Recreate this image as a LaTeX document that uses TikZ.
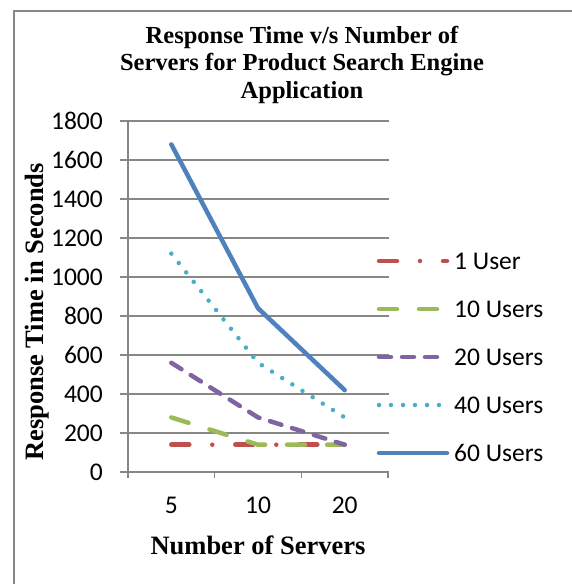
\documentclass[tikz,border=0pt]{standalone}
\usepackage{fontspec}
\setmainfont{Liberation Serif}
\newfontfamily\calibri{Carlito}
\definecolor{gridgray}{HTML}{878787}
\definecolor{oneuser}{HTML}{C0504D}
\definecolor{tenusers}{HTML}{9BBB59}
\definecolor{twentyusers}{HTML}{8064A2}
\definecolor{fortyusers}{HTML}{4BACC6}
\definecolor{sixtyusers}{HTML}{4F81BD}
\begin{document}
\begin{tikzpicture}[x=1pt, y=-1pt,
    axisline/.style={draw=gridgray, line width=1.3pt},
    ticklabel/.style={font=\calibri\fontsize{25.5}{28}\selectfont, inner sep=0pt},
    titlefont/.style={font=\bfseries\fontsize{24.5}{27.5}\selectfont, inner sep=0pt, align=center},
    axistitle/.style={font=\bfseries\fontsize{26.5}{30}\selectfont, inner sep=0pt},
    series/.style={line width=4.5pt, line cap=round, line join=round},
    dashdot/.style={series, oneuser, dash pattern=on 18pt off 23pt on 0pt off 23pt},
    longdash/.style={series, tenusers, dash pattern=on 18pt off 22pt},
    shortdash/.style={series, twentyusers, dash pattern=on 12pt off 11pt},
    dotline/.style={series, fortyusers, dash pattern=on 0pt off 12pt},
    solidline/.style={series, sixtyusers}]
    \useasboundingbox (0,0) rectangle (572,584);
    % frame
    \draw[draw=gridgray, line width=2pt] (13.5,600) -- (13.5,10.5) -- (600,10.5);
    % title
    \node[titlefont, anchor=north] (title) at (302,26)
        {Response Time v/s Number of\\Servers for Product Search Engine\\Application};
    % grid and axes
    \foreach \v in {200,400,...,1800}
        \draw[axisline] (120,{472-0.195*\v}) -- (389,{472-0.195*\v});
    \draw[axisline] (120,472) -- (389,472);
    \draw[axisline] (128,121) -- (128,478);
    \foreach \x in {214.7,301.3,388}
        \draw[axisline] (\x,472) -- (\x,478);
    \foreach \v in {0,200,...,1800}
        \node[ticklabel, anchor=east] (y\v) at (103,{472-0.195*\v}) {\v};
    \node[ticklabel] (x5) at (171.3,505) {5};
    \node[ticklabel] (x10) at (258,505) {10};
    \node[ticklabel] (x20) at (344.7,505) {20};
    \node[axistitle] (xtitle) at (258,545) {Number of Servers};
    \node[axistitle, rotate=90] (ytitle) at (37,312) {Response Time in Seconds};
    % series
    \draw[dashdot] (171.3,444.7) -- (258,444.7) -- (344.7,444.7);
    \draw[longdash] (171.3,417.4) -- (258,444.7) -- (344.7,444.7);
    \draw[shortdash] (171.3,362.8) -- (258,417.4) -- (344.7,444.7);
    \draw[dotline] (171.3,253.6) -- (258,362.8) -- (344.7,417.4);
    \draw[solidline] (171.3,144.4) -- (258,308.2) -- (344.7,390.1);
    % legend
    \node[ticklabel, anchor=west] (leg1) at (454,261) {1 User};
    \node[ticklabel, anchor=west] (leg10) at (454,309) {10 Users};
    \node[ticklabel, anchor=west] (leg20) at (454,357) {20 Users};
    \node[ticklabel, anchor=west] (leg40) at (454,405) {40 Users};
    \node[ticklabel, anchor=west] (leg60) at (454,453) {60 Users};
    \draw[dashdot] (379,261) -- (447,261);
    \draw[longdash] (379,309) -- (447,309);
    \draw[shortdash] (379,357) -- (447,357);
    \draw[dotline] (379,405) -- (447,405);
    \draw[solidline] (379,453) -- (447,453);
\end{tikzpicture}
\end{document}
